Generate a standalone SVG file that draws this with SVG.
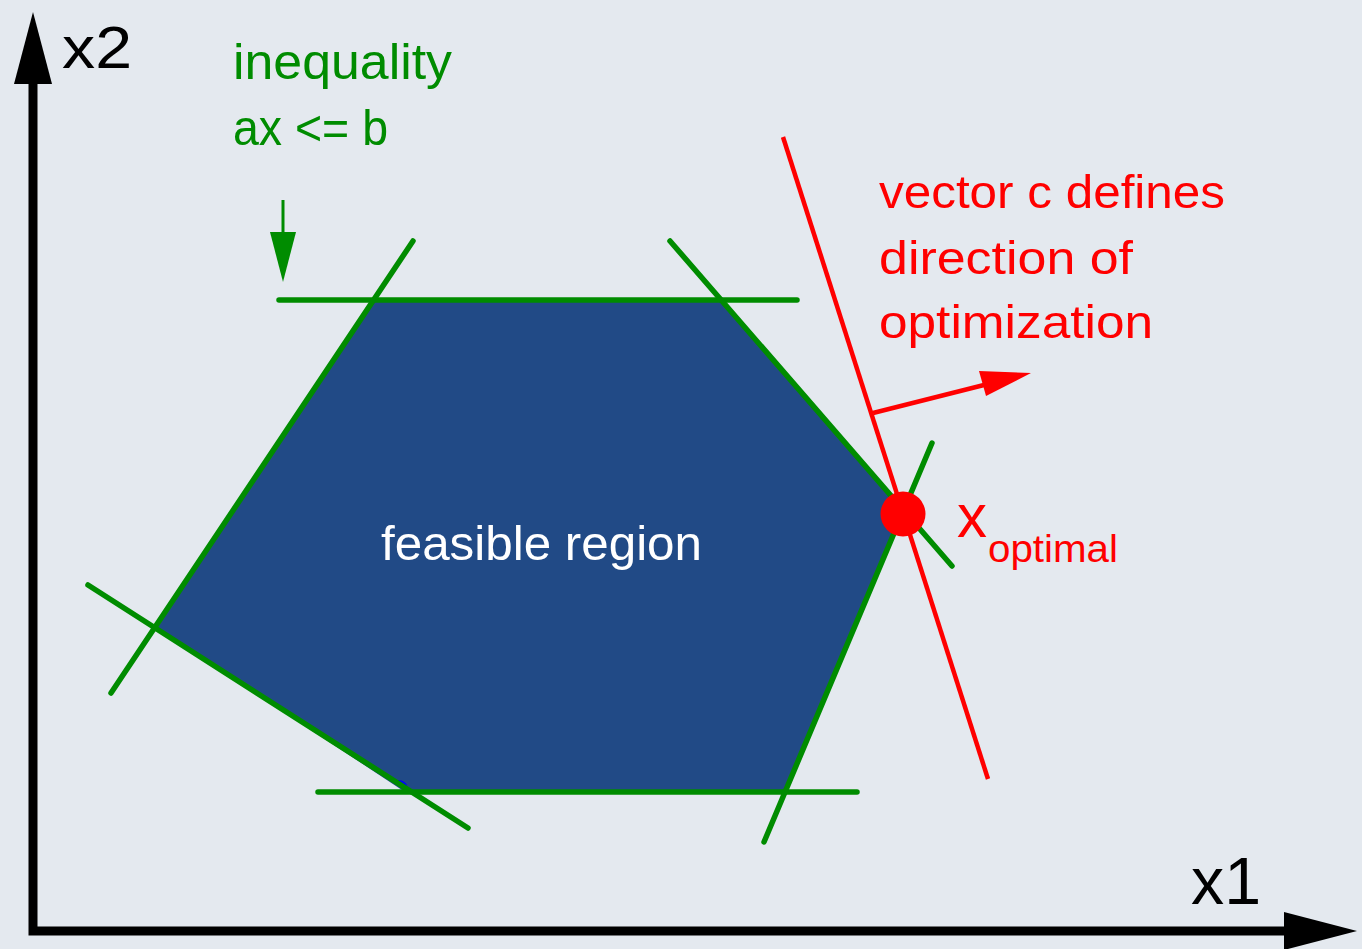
<svg xmlns="http://www.w3.org/2000/svg" width="1362" height="949" viewBox="0 0 1362 949">
<defs>
<style>
.g{stroke:#008c00;stroke-width:5.5;fill:none;stroke-linecap:round}
.r{stroke:#ff0000;stroke-width:4.5;fill:none}
.t{font-family:"Liberation Sans",Arial,sans-serif}
</style>
</defs>
<rect width="1362" height="949" fill="#e4e9ef"/>
<g id="feasible-region">
<polygon points="373,300 722,300 903,511 785,792 405,792 157,628" fill="#214a86"/>
<ellipse cx="402" cy="784" rx="6" ry="3" transform="rotate(32 402 784)" fill="#0000ff"/>
<text class="t" x="381" y="560" font-size="48" fill="#ffffff" textLength="321" lengthAdjust="spacingAndGlyphs">feasible region</text>
</g>
<g id="constraints">
<line class="g" x1="279" y1="300" x2="797" y2="300" stroke-linecap="butt"/>
<line class="g" x1="413" y1="241" x2="111" y2="693"/>
<line class="g" x1="88" y1="585" x2="468" y2="828"/>
<line class="g" x1="318" y1="792" x2="857" y2="792" stroke-linecap="butt"/>
<line class="g" x1="764" y1="842" x2="932" y2="443"/>
<line class="g" x1="670" y1="241" x2="952" y2="566"/>
</g>
<g id="axes">
<path d="M33,80 L33,931 L1288,931" fill="none" stroke="#000" stroke-width="9"/>
<polygon points="33,12 14,84 52,84" fill="#000"/>
<polygon points="1357,931 1284,912 1284,950" fill="#000"/>
<text class="t" x="62" y="68" font-size="60" fill="#000" textLength="70" lengthAdjust="spacingAndGlyphs">x2</text>
<text class="t" x="1191" y="904" font-size="66" fill="#000" textLength="70" lengthAdjust="spacingAndGlyphs">x1</text>
</g>
<g id="inequality-label">
<text class="t" font-size="50" fill="#008c00"><tspan x="233" y="79" textLength="219" lengthAdjust="spacingAndGlyphs">inequality</tspan><tspan x="233" y="145" textLength="155" lengthAdjust="spacingAndGlyphs">ax &lt;= b</tspan></text>
<line x1="283" y1="200" x2="283" y2="236" stroke="#008c00" stroke-width="3"/>
<polygon points="283,282 270,232 296,232" fill="#008c00"/>
</g>
<g id="objective">
<line class="r" x1="783" y1="137" x2="988" y2="779"/>
<line class="r" x1="873" y1="413" x2="984" y2="385" stroke-width="6"/>
<polygon points="1031,373 979,371 986,396" fill="#ff0000"/>
<text class="t" font-size="47" fill="#ff0000"><tspan x="879" y="208" textLength="346" lengthAdjust="spacingAndGlyphs">vector c defines</tspan><tspan x="879" y="274" textLength="254" lengthAdjust="spacingAndGlyphs">direction of</tspan><tspan x="879" y="338" textLength="274" lengthAdjust="spacingAndGlyphs">optimization</tspan></text>
</g>
<g id="optimal-point">
<circle cx="903" cy="514" r="22.5" fill="#ff0000"/>
<text class="t" x="957" y="537" font-size="62" fill="#ff0000" textLength="30" lengthAdjust="spacingAndGlyphs">x</text>
<text class="t" x="988" y="562" font-size="38" fill="#ff0000" textLength="130" lengthAdjust="spacingAndGlyphs">optimal</text>
</g>
</svg>
